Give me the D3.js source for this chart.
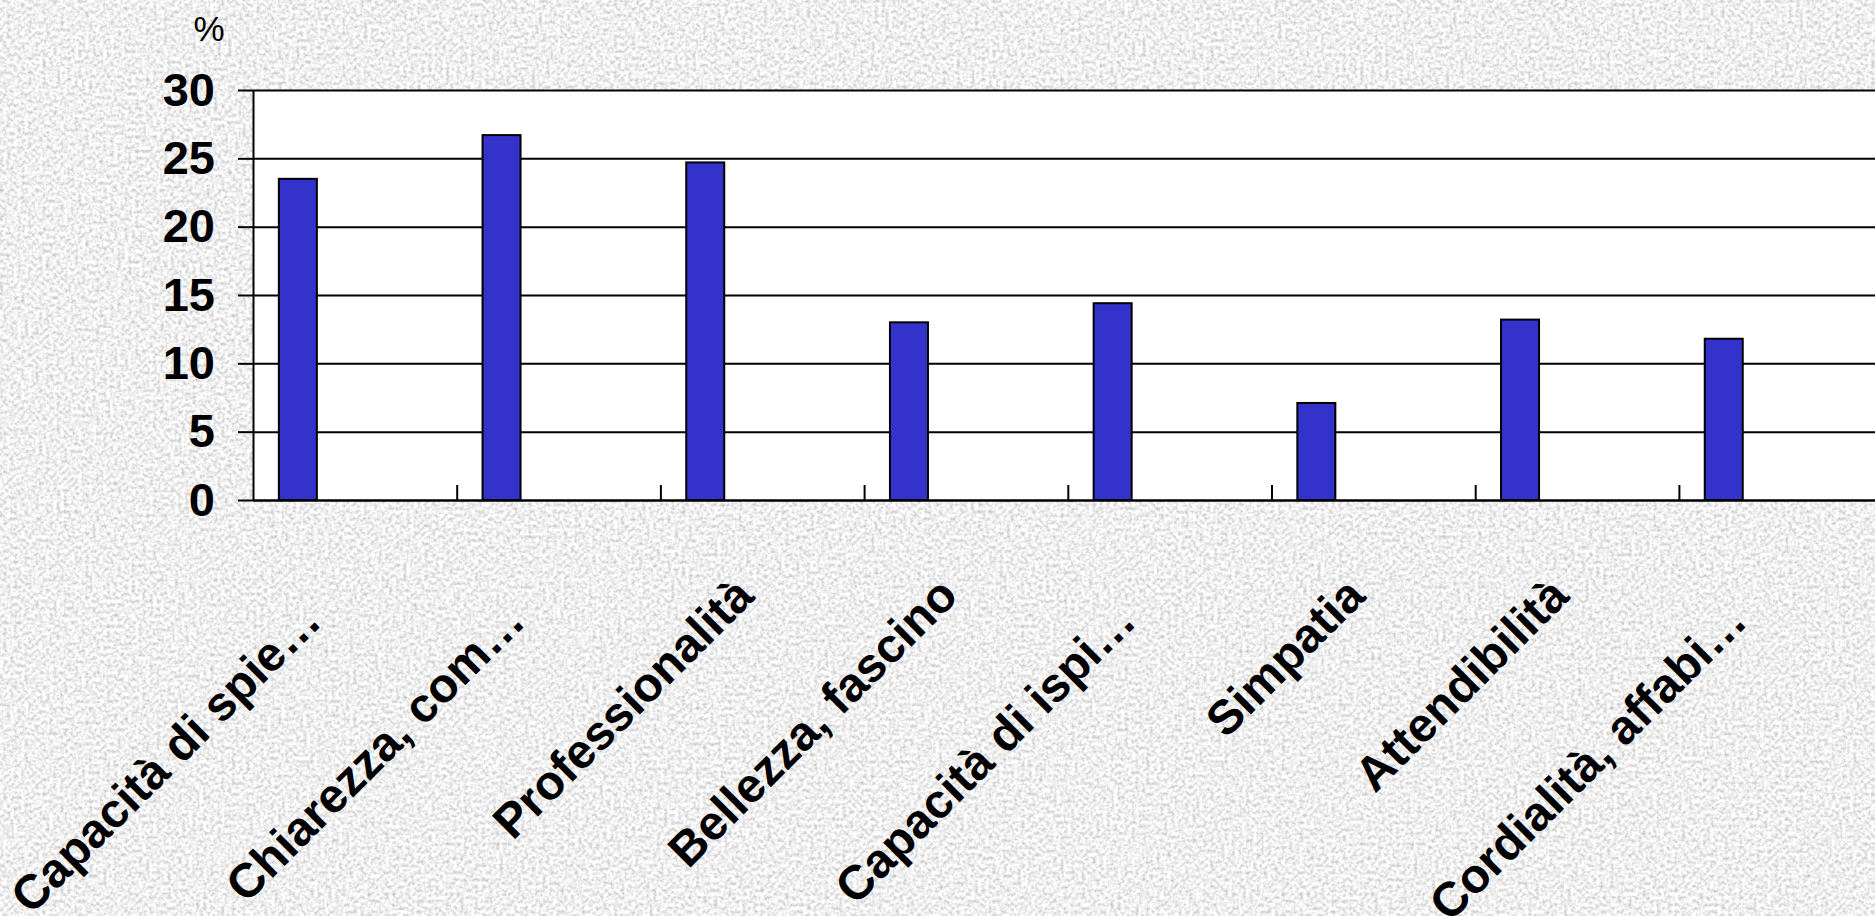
<!DOCTYPE html>
<html>
<head>
<meta charset="utf-8">
<script src="https://cdn.jsdelivr.net/npm/d3@7"></script>
<style>
  html, body { margin: 0; padding: 0; overflow: hidden; background: #dcdcdc; }
  svg { display: block; font-family: 'Liberation Sans', Arial, sans-serif; }
</style>
</head>
<body>
<script>
const categories = ['Capacità di spie…', 'Chiarezza, com…', 'Professionalità', 'Bellezza, fascino',
  'Capacità di ispi…', 'Simpatia', 'Attendibilità', 'Cordialità, affabi…'];
const values = [23.5, 26.7, 24.7, 13.0, 14.4, 7.1, 13.2, 11.8];
const yTicks = [0, 5, 10, 15, 20, 25, 30];
const unitLabel = '%';

const width = 1875,
  height = 916,
  margin = { top: 90, left: 253, bottom: 416 },
  step = 203.7,
  plotBottom = height - margin.bottom;

const svg = d3.select('body')
  .append('svg')
  .attr('width', width)
  .attr('height', height);

// granite-like paper background
const defs = svg.append('defs');
const granite = defs.append('filter')
  .attr('id', 'granite')
  .attr('x', 0).attr('y', 0).attr('width', '100%').attr('height', '100%');
granite.append('feTurbulence')
  .attr('type', 'fractalNoise')
  .attr('baseFrequency', 0.28)
  .attr('numOctaves', 2)
  .attr('seed', 11)
  .attr('result', 'noise');
granite.append('feColorMatrix')
  .attr('in', 'noise')
  .attr('type', 'matrix')
  .attr('values', '0.85 0 0 0 0.44  0.85 0 0 0 0.44  0.85 0 0 0 0.44  0 0 0 0 1');

svg.append('rect')
  .attr('width', width)
  .attr('height', height)
  .attr('filter', 'url(#granite)');

const x = d3.scaleBand()
  .domain(categories)
  .range([margin.left, margin.left + step * categories.length]);

// room for four bars per category, only the first one is filled
const slot = d3.scaleBand()
  .domain(d3.range(4))
  .range([0, x.bandwidth()])
  .paddingOuter(0.68);

const y = d3.scaleLinear()
  .domain([0, 30])
  .range([plotBottom, margin.top]);

const plotRight = x.range()[1];

svg.append('rect')
  .attr('x', margin.left)
  .attr('y', y(30))
  .attr('width', plotRight - margin.left)
  .attr('height', y(0) - y(30))
  .attr('fill', '#fff');

// y axis with gridlines
const yAxis = svg.append('g')
  .attr('transform', `translate(${margin.left},0)`)
  .call(d3.axisLeft(y).tickValues(yTicks).tickSize(15).tickSizeOuter(0).tickPadding(23));

yAxis.selectAll('.tick line').clone()
  .attr('x2', plotRight - margin.left);

yAxis.selectAll('line, path')
  .attr('stroke', '#000')
  .attr('stroke-width', 2);

yAxis.selectAll('text')
  .attr('font-size', 47)
  .attr('font-weight', 'bold')
  .attr('fill', '#000');

// bars
svg.append('g')
  .selectAll('rect')
  .data(values)
  .join('rect')
  .attr('x', (d, i) => x(categories[i]) + slot(0))
  .attr('y', d => y(d))
  .attr('width', slot.bandwidth())
  .attr('height', d => y(0) - y(d))
  .attr('fill', '#3333cc')
  .attr('stroke', '#000')
  .attr('stroke-width', 2);

// category axis: ticks between categories, pointing up
const xi = d3.scaleLinear()
  .domain([0, categories.length])
  .range(x.range());

const xAxis = svg.append('g')
  .attr('transform', `translate(0,${y(0)})`)
  .call(d3.axisBottom(xi).tickValues(d3.range(1, categories.length)).tickSize(-15).tickSizeOuter(0).tickFormat(''));

xAxis.selectAll('line, path')
  .attr('stroke', '#000')
  .attr('stroke-width', 2);

svg.append('g')
  .selectAll('text')
  .data(categories)
  .join('text')
  .attr('transform', d => `translate(${x(d) + x.bandwidth() / 2 - 6},${y(0) + 98}) rotate(-45)`)
  .attr('text-anchor', 'end')
  .attr('dx', d => d.endsWith('…') ? '-0.75em' : 0)
  .attr('font-size', 48)
  .attr('font-weight', 'bold')
  .attr('fill', '#000')
  .text(d => d);

svg.append('text')
  .attr('x', 209)
  .attr('y', 41)
  .attr('text-anchor', 'middle')
  .attr('font-size', 35)
  .attr('fill', '#000')
  .text(unitLabel);
</script>
</body>
</html>
